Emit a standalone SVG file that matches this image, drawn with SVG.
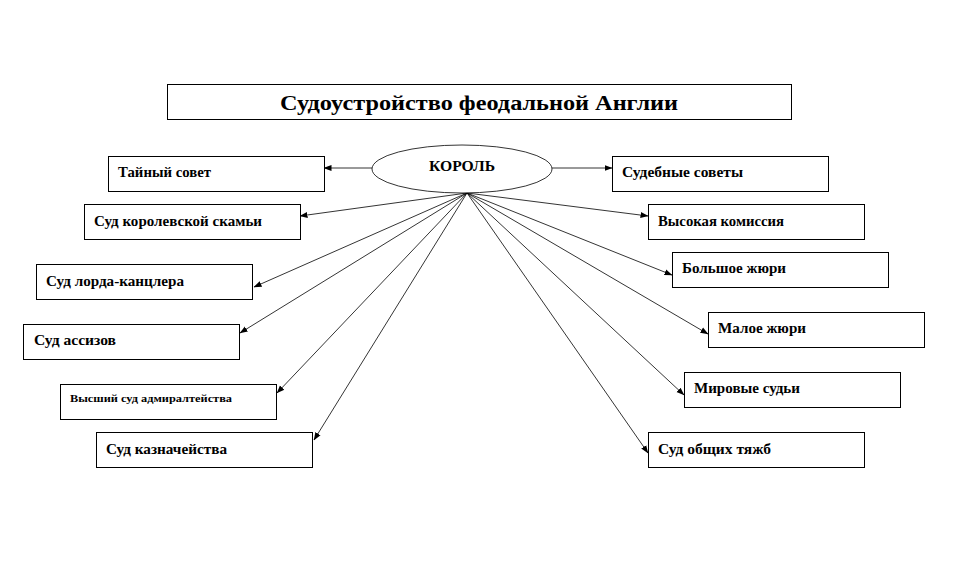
<svg xmlns="http://www.w3.org/2000/svg" width="960" height="576" viewBox="0 0 960 576">
<style>
.bx{fill:#fff;stroke:#000;stroke-width:1}
.t{font-family:"Liberation Serif","Times New Roman",serif;font-weight:bold;font-size:14px;fill:#000}
.ln{stroke:#000;stroke-width:0.8;fill:none}
</style>
<defs>
<marker id="ah" markerUnits="userSpaceOnUse" markerWidth="8" markerHeight="8" viewBox="0 0 8 8" refX="7.5" refY="4" orient="auto">
<path d="M0,1 L8,4 L0,7 Z" fill="#000"/>
</marker>
</defs>
<rect width="960" height="576" fill="#fff"/>
<g id="title">
<rect class="bx" x="167.5" y="84.5" width="624" height="35"/>
<text class="t" x="280" y="110" style="font-size:20px" textLength="398" lengthAdjust="spacingAndGlyphs">Судоустройство феодальной Англии</text>
</g>
<g id="connectors">
<line class="ln" x1="372" y1="168" x2="324" y2="168" marker-end="url(#ah)"/>
<line class="ln" x1="552" y1="168" x2="612" y2="168" marker-end="url(#ah)"/>
<line class="ln" x1="467" y1="193" x2="300" y2="216" marker-end="url(#ah)"/>
<line class="ln" x1="467" y1="193" x2="254" y2="287" marker-end="url(#ah)"/>
<line class="ln" x1="467" y1="193" x2="240" y2="333" marker-end="url(#ah)"/>
<line class="ln" x1="467" y1="193" x2="277" y2="393" marker-end="url(#ah)"/>
<line class="ln" x1="467" y1="193" x2="314" y2="440" marker-end="url(#ah)"/>
<line class="ln" x1="467" y1="193" x2="648" y2="216" marker-end="url(#ah)"/>
<line class="ln" x1="467" y1="193" x2="672" y2="275" marker-end="url(#ah)"/>
<line class="ln" x1="467" y1="193" x2="708" y2="334" marker-end="url(#ah)"/>
<line class="ln" x1="467" y1="193" x2="684" y2="395" marker-end="url(#ah)"/>
<line class="ln" x1="467" y1="193" x2="648" y2="453" marker-end="url(#ah)"/>
</g>
<g id="korol">
<ellipse cx="462" cy="169" rx="90" ry="24" fill="#fff" stroke="#000" stroke-width="0.8"/>
<text class="t" x="429" y="171" style="font-size:15px" textLength="66" lengthAdjust="spacingAndGlyphs">КОРОЛЬ</text>
</g>
<g id="tayny">
<rect class="bx" x="108.5" y="156.5" width="216" height="35"/>
<text class="t" x="118" y="177" textLength="93" lengthAdjust="spacingAndGlyphs">Тайный совет</text>
</g>
<g id="korolevskoy">
<rect class="bx" x="84.5" y="204.5" width="216" height="35"/>
<text class="t" x="94" y="226" textLength="168" lengthAdjust="spacingAndGlyphs">Суд королевской скамьи</text>
</g>
<g id="lorda">
<rect class="bx" x="36.5" y="264.5" width="216" height="35"/>
<text class="t" x="46" y="286" textLength="138" lengthAdjust="spacingAndGlyphs">Суд лорда-канцлера</text>
</g>
<g id="assizov">
<rect class="bx" x="23.5" y="324.5" width="216" height="35"/>
<text class="t" x="34" y="345" textLength="82" lengthAdjust="spacingAndGlyphs">Суд ассизов</text>
</g>
<g id="admiralty">
<rect class="bx" x="60.5" y="384.5" width="216" height="35"/>
<text class="t" x="70" y="402" style="font-size:10px" textLength="162" lengthAdjust="spacingAndGlyphs">Высший суд адмиралтейства</text>
</g>
<g id="kaznacheystva">
<rect class="bx" x="96.5" y="432.5" width="216" height="35"/>
<text class="t" x="106" y="454" textLength="121" lengthAdjust="spacingAndGlyphs">Суд казначейства</text>
</g>
<g id="sudebnye">
<rect class="bx" x="612.5" y="156.5" width="216" height="35"/>
<text class="t" x="622" y="177" textLength="121" lengthAdjust="spacingAndGlyphs">Судебные советы</text>
</g>
<g id="vysokaya">
<rect class="bx" x="648.5" y="204.5" width="216" height="35"/>
<text class="t" x="658" y="226" textLength="126" lengthAdjust="spacingAndGlyphs">Высокая комиссия</text>
</g>
<g id="bolshoe">
<rect class="bx" x="672.5" y="252.5" width="216" height="35"/>
<text class="t" x="682" y="273" textLength="104" lengthAdjust="spacingAndGlyphs">Большое жюри</text>
</g>
<g id="maloe">
<rect class="bx" x="708.5" y="312.5" width="216" height="35"/>
<text class="t" x="718" y="333" textLength="88" lengthAdjust="spacingAndGlyphs">Малое жюри</text>
</g>
<g id="mirovye">
<rect class="bx" x="684.5" y="372.5" width="216" height="35"/>
<text class="t" x="694" y="393" textLength="106" lengthAdjust="spacingAndGlyphs">Мировые судьи</text>
</g>
<g id="obshchikh">
<rect class="bx" x="648.5" y="432.5" width="216" height="35"/>
<text class="t" x="658" y="454" textLength="113" lengthAdjust="spacingAndGlyphs">Суд общих тяжб</text>
</g>
</svg>
